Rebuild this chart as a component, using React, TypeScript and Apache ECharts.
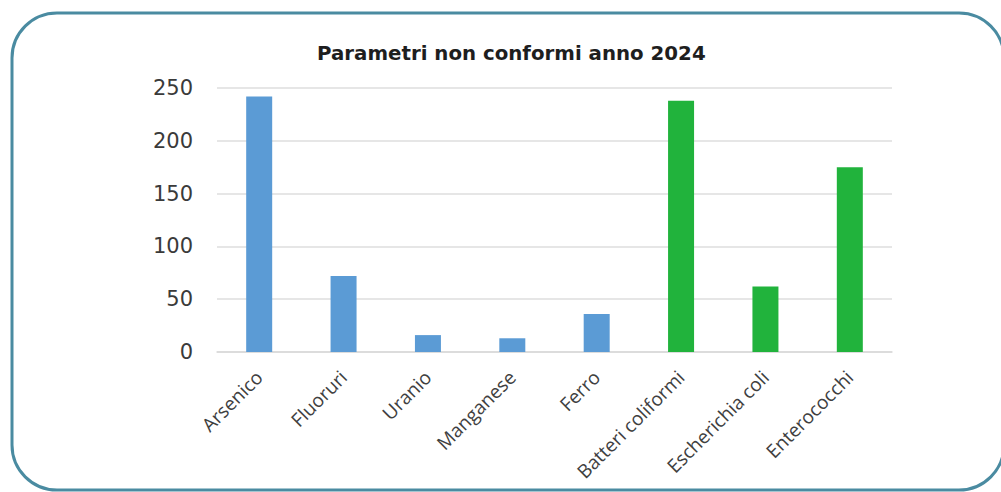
import React, { useEffect, useRef } from "react";
import * as echarts from "echarts";

const titleText = "Parametri non conformi anno 2024";
const categories = [
  "Arsenico",
  "Fluoruri",
  "Uranio",
  "Manganese",
  "Ferro",
  "Batteri coliformi",
  "Escherichia coli",
  "Enterococchi",
];
const chemicalValues = [242, 72, 16, 13, 36, null, null, null];
const microbioValues = [null, null, null, null, null, 238, 62, 175];
const yTicks = [0, 50, 100, 150, 200, 250];

export default function App() {
  const ref = useRef<HTMLDivElement>(null);

  useEffect(() => {
    document.body.style.margin = "0";
    if (!ref.current) return;
    const chart = echarts.init(ref.current, null, { renderer: "svg" });
    chart.setOption({
      animation: false,
      backgroundColor: "#ffffff",
      title: {
        text: titleText,
        left: 317,
        top: 43,
        padding: 0,
        textStyle: {
          fontFamily: "DejaVu Sans",
          fontWeight: "bold",
          fontSize: 19.8,
          color: "#1e1e1e",
        },
      },
      graphic: [
        {
          type: "rect",
          shape: { x: 12, y: 13, width: 992, height: 477, r: 45 },
          style: { fill: "none", stroke: "#4a8ba1", lineWidth: 3 },
          silent: true,
          z: 100,
        },
      ],
      grid: { left: 217, right: 109, top: 88, bottom: 140 },
      xAxis: {
        type: "category",
        data: categories,
        axisTick: { show: false },
        axisLine: { lineStyle: { color: "#d9d9d9", width: 1.5 } },
        axisLabel: {
          interval: 0,
          rotate: 45,
          margin: 22,
          fontFamily: "Open Sans",
          fontSize: 19,
          color: "#404040",
        },
      },
      yAxis: {
        type: "value",
        min: yTicks[0],
        max: yTicks[yTicks.length - 1],
        interval: 50,
        axisLine: { show: false },
        axisTick: { show: false },
        splitLine: { lineStyle: { color: "#dedede", width: 1.5 } },
        axisLabel: {
          margin: 24,
          fontFamily: "DejaVu Sans",
          fontSize: 21,
          color: "#3a3a3a",
        },
      },
      series: [
        {
          name: "Parametri chimici",
          type: "bar",
          stack: "all",
          barWidth: 26,
          data: chemicalValues,
          itemStyle: { color: "#5b9bd5" },
        },
        {
          name: "Parametri microbiologici",
          type: "bar",
          stack: "all",
          barWidth: 29,
          data: microbioValues,
          itemStyle: { color: "#21b33c" },
        },
      ],
    });
    return () => chart.dispose();
  }, []);

  return <div ref={ref} style={{ width: 1001, height: 492 }} />;
}
